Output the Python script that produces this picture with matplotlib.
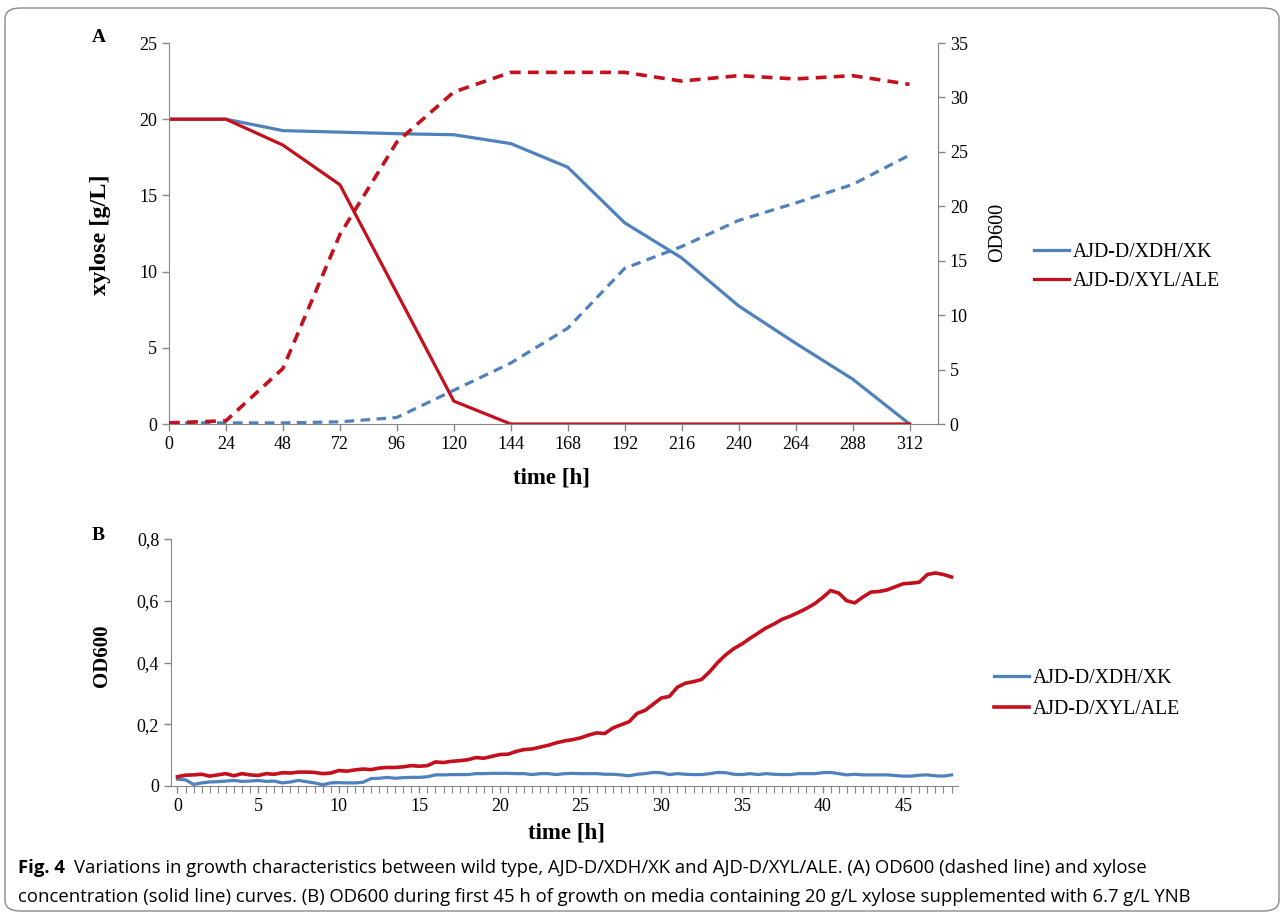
import matplotlib
matplotlib.use("Agg")
import matplotlib.pyplot as plt
from matplotlib.patches import FancyBboxPatch
from matplotlib.ticker import FuncFormatter, MultipleLocator

# ---- data, panel A (every 24 h) ----
time_a = [0, 24, 48, 72, 96, 120, 144, 168, 192, 216, 240, 264, 288, 312]
xyl_xdh = [20, 20, 19.25, 19.15, 19.05, 18.98, 18.4, 16.85, 13.2, 10.9, 7.75, 5.3, 2.95, 0]
xyl_ale = [20, 20, 18.3, 15.7, 8.6, 1.5, 0, 0, 0, 0, 0, 0, 0, 0]
od_xdh = [0.1, 0.1, 0.1, 0.2, 0.6, 3.1, 5.6, 8.8, 14.3, 16.3, 18.7, 20.3, 22.0, 24.7]
od_ale = [0.1, 0.3, 5.1, 17.4, 25.9, 30.5, 32.3, 32.3, 32.3, 31.5, 32.0, 31.7, 32.0, 31.2]

# ---- data, panel B (every 0.5 h, 0..48 h) ----
time_b = [i * 0.5 for i in range(97)]
b_ale = [
    0.030, 0.035, 0.036, 0.038, 0.032, 0.036, 0.040, 0.033, 0.040, 0.036,
    0.034, 0.040, 0.038, 0.043, 0.042, 0.045, 0.045, 0.044, 0.040, 0.042,
    0.050, 0.048, 0.052, 0.055, 0.053, 0.058, 0.060, 0.060, 0.062, 0.066,
    0.064, 0.066, 0.078, 0.076, 0.080, 0.082, 0.085, 0.092, 0.090, 0.096,
    0.102, 0.103, 0.112, 0.118, 0.120, 0.126, 0.132, 0.140, 0.146, 0.150,
    0.156, 0.165, 0.172, 0.170, 0.188, 0.198, 0.208, 0.235, 0.245, 0.265,
    0.285, 0.290, 0.320, 0.333, 0.338, 0.345, 0.370, 0.400, 0.425, 0.445,
    0.460, 0.478, 0.495, 0.512, 0.525, 0.540, 0.550, 0.562, 0.575, 0.590,
    0.610, 0.633, 0.625, 0.600, 0.593, 0.612, 0.628, 0.630, 0.635, 0.645,
    0.655, 0.657, 0.660, 0.685, 0.690, 0.685, 0.677,
]
b_xdh = [
    0.022, 0.020, 0.005, 0.010, 0.013, 0.014, 0.016, 0.018, 0.015, 0.016,
    0.018, 0.015, 0.016, 0.010, 0.013, 0.018, 0.014, 0.010, 0.004, 0.010,
    0.011, 0.010, 0.010, 0.012, 0.024, 0.025, 0.028, 0.025, 0.027, 0.028,
    0.028, 0.030, 0.036, 0.036, 0.037, 0.037, 0.037, 0.040, 0.040, 0.041,
    0.041, 0.041, 0.040, 0.040, 0.037, 0.040, 0.040, 0.037, 0.040, 0.041,
    0.040, 0.040, 0.040, 0.038, 0.038, 0.036, 0.033, 0.038, 0.040, 0.044,
    0.043, 0.037, 0.040, 0.038, 0.037, 0.037, 0.040, 0.044, 0.043, 0.038,
    0.037, 0.040, 0.037, 0.040, 0.038, 0.037, 0.037, 0.040, 0.040, 0.040,
    0.043, 0.044, 0.040, 0.036, 0.038, 0.036, 0.036, 0.036, 0.036, 0.034,
    0.032, 0.032, 0.035, 0.036, 0.033, 0.032, 0.036,
]
labels = ["AJD-D/XDH/XK", "AJD-D/XYL/ALE"]

blue = "#4F81BD"
red = "#C4101C"
grey = "#868686"

plt.rcParams["font.family"] = "Liberation Serif"

fig = plt.figure(figsize=(12.84, 9.17), dpi=100)
W, H = 1284, 917

def frac(x0, y_top, x1, y_bot):
    return [x0 / W, 1 - y_bot / H, (x1 - x0) / W, (y_bot - y_top) / H]

def style(ax):
    for s in ["top", "right"]:
        ax.spines[s].set_visible(False)
    for s in ["left", "bottom"]:
        ax.spines[s].set_color(grey)
    ax.tick_params(colors=grey, labelcolor="black", labelsize=13, length=5, width=1)

# ---- panel A ----
ax = fig.add_axes(frac(169, 43, 938, 424))
style(ax)
ax.plot(time_a, xyl_xdh, color=blue, lw=2.3)
ax.plot(time_a, xyl_ale, color=red, lw=2.3)
ax.set_xlim(0, 324)
ax.set_ylim(0, 25)
ax.set_xticks(time_a)
ax.set_yticks(range(0, 26, 5))
ax.set_ylabel("xylose [g/L]", fontsize=17.5, fontweight="bold")
ax.yaxis.set_label_coords(-0.075, 0.496)
ax.set_xlabel("time [h]", fontsize=16.5, fontweight="bold")
ax.xaxis.set_label_coords(0.498, -0.113)

ax2 = ax.twinx()
ax2.plot(time_a, od_xdh, color=blue, lw=2.3, ls=(0, (3, 2)))
ax2.plot(time_a, od_ale, color=red, lw=2.6, ls=(0, (3, 2)))
ax2.set_ylim(0, 35)
ax2.set_yticks(range(0, 36, 5))
for s in ["top", "left", "bottom"]:
    ax2.spines[s].set_visible(False)
ax2.spines["right"].set_color(grey)
ax2.tick_params(colors=grey, labelcolor="black", labelsize=13, length=5, width=1)
ax2.set_ylabel("OD600", fontsize=14.5)
ax2.yaxis.set_label_coords(1.065, 0.504)

fig.legend(handles=ax.get_lines(), labels=labels, loc="center left",
           bbox_to_anchor=(1026 / W, 1 - 267 / H), frameon=False,
           fontsize=14.2, handlelength=1.8, handletextpad=0.15, labelspacing=0.5,
           borderaxespad=0)
fig.text(92 / W, 1 - 38 / H, "A", fontsize=14, fontweight="bold", va="center")

# ---- panel B ----
bx = fig.add_axes(frac(171, 539, 958, 786))
style(bx)
bx.plot(time_b, b_xdh, color=blue, lw=2.3)
bx.plot(time_b, b_ale, color=red, lw=2.6)
bx.set_xlim(-0.4, 48.4)
bx.set_ylim(0, 0.8)
bx.xaxis.set_major_locator(MultipleLocator(5))
bx.xaxis.set_minor_locator(MultipleLocator(0.5))
bx.tick_params(axis="x", which="minor", colors=grey, length=5, width=0.8)
bx.set_yticks([0, 0.2, 0.4, 0.6, 0.8])
bx.yaxis.set_major_formatter(FuncFormatter(lambda v, p: "0" if v == 0 else f"{v:.1f}".replace(".", ",")))
bx.set_ylabel("OD600", fontsize=15, fontweight="bold")
bx.yaxis.set_label_coords(-0.075, 0.526)
bx.set_xlabel("time [h]", fontsize=16.5, fontweight="bold")
bx.xaxis.set_label_coords(0.502, -0.146)

fig.legend(handles=bx.get_lines(), labels=labels, loc="center left",
           bbox_to_anchor=(986 / W, 1 - 694 / H), frameon=False,
           fontsize=14.2, handlelength=1.8, handletextpad=0.15, labelspacing=0.6,
           borderaxespad=0)
fig.text(92 / W, 1 - 536 / H, "B", fontsize=14, fontweight="bold", va="center")

# ---- caption and border ----
cap_font = ["Open Sans", "DejaVu Sans"]
fig_lbl = fig.text(18 / W, 1 - 868 / H, "Fig. 4", fontsize=13.3, fontweight="bold",
                   va="center", family=cap_font)
fig.canvas.draw()
x_end = fig_lbl.get_window_extent().x1
fig.text((x_end + 9) / W, 1 - 868 / H,
         "Variations in growth characteristics between wild type, AJD-D/XDH/XK and AJD-D/XYL/ALE. "
         "(A) OD600 (dashed line) and xylose",
         fontsize=13.3, va="center", family=cap_font)
fig.text(18 / W, 1 - 897 / H,
         "concentration (solid line) curves. (B) OD600 during first 45 h of growth on media containing "
         "20 g/L xylose supplemented with 6.7 g/L YNB",
         fontsize=13.3, va="center", family=cap_font)

fig.patches.append(FancyBboxPatch((5 / W, 6 / H), 1274 / W, 903 / H,
                                  boxstyle="round,pad=0,rounding_size=0.012",
                                  transform=fig.transFigure, ec="#8a8a8a", fc="none", lw=1))

fig.savefig("out.png", dpi=100)
